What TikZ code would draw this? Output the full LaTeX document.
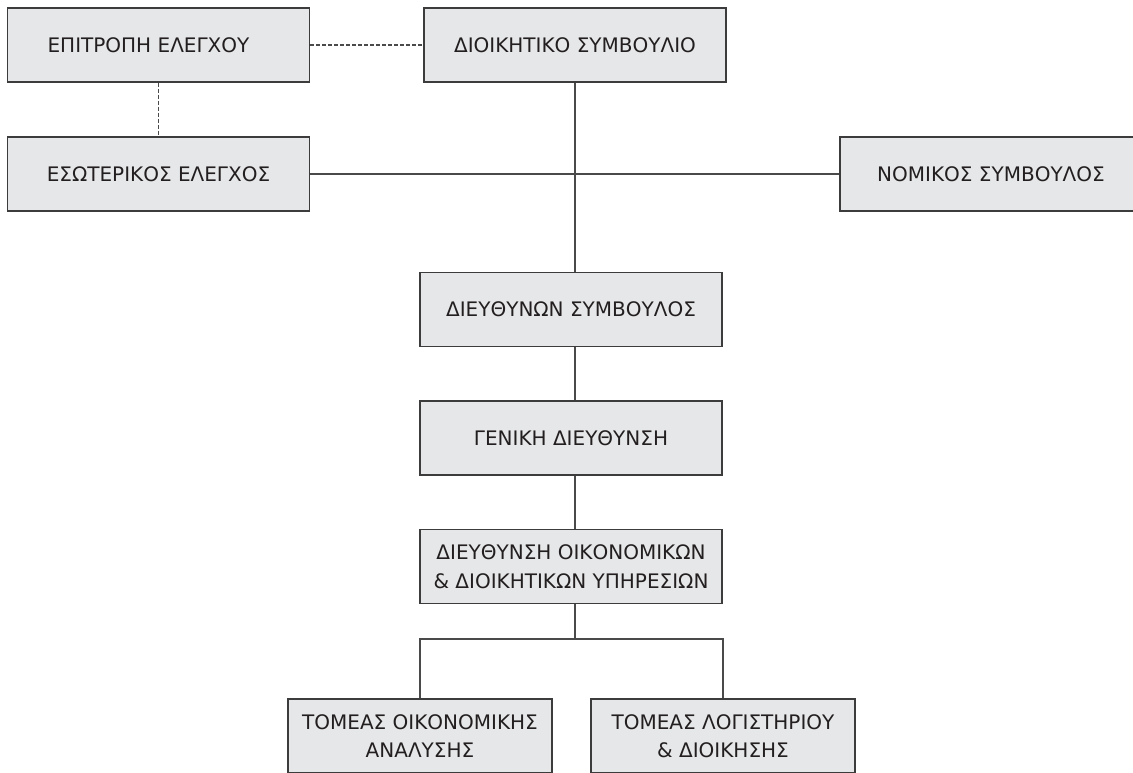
\documentclass[tikz,border=0pt]{standalone}
\usepackage{fontspec}
\setmainfont{DejaVu Sans}
\definecolor{boxfill}{HTML}{E6E7E8}
\definecolor{boxline}{HTML}{3C3C3C}
\definecolor{linkline}{HTML}{4A4A4A}
\definecolor{txt}{HTML}{231F20}
\begin{document}
\begin{tikzpicture}[x=1pt,y=-1pt,
  unit/.style={draw=boxline, fill=boxfill, line width=1.2pt,
    minimum width=302pt, minimum height=74pt, inner sep=0pt,
    align=center, text=txt, font=\fontsize{20}{28.5}\selectfont},
  sector/.style={unit, minimum width=264pt},
  link/.style={draw=linkline, line width=1.3pt},
  dotlink/.style={link, dash pattern=on 4pt off 2pt}]
\useasboundingbox (0,0) rectangle (1133,773);
\clip (0,0) rectangle (1133,773);

% boxes
\node[unit] (epit)   at (158.5,45)  {ΕΠΙΤΡΟΠΗ ΕΛΕΓΧΟΥ\hspace*{20pt}};
\node[unit] (dioik)  at (575,45)    {ΔΙΟΙΚΗΤΙΚΟ ΣΥΜΒΟΥΛΙΟ};
\node[unit] (esot)   at (158.5,174) {ΕΣΩΤΕΡΙΚΟΣ ΕΛΕΓΧΟΣ};
\node[unit] (nomik)  at (991,174)   {ΝΟΜΙΚΟΣ ΣΥΜΒΟΥΛΟΣ};
\node[unit] (dieuth) at (571,309.5) {ΔΙΕΥΘΥΝΩΝ ΣΥΜΒΟΥΛΟΣ};
\node[unit] (gen)    at (571,438)   {ΓΕΝΙΚΗ ΔΙΕΥΘΥΝΣΗ};
\node[unit] (oik)    at (571,566.5) {ΔΙΕΥΘΥΝΣΗ ΟΙΚΟΝΟΜΙΚΩΝ\\ \& ΔΙΟΙΚΗΤΙΚΩΝ ΥΠΗΡΕΣΙΩΝ};
\node[sector] (tomoik) at (420,736) {ΤΟΜΕΑΣ ΟΙΚΟΝΟΜΙΚΗΣ\\ ΑΝΑΛΥΣΗΣ};
\node[sector] (tomlog) at (723,736) {ΤΟΜΕΑΣ ΛΟΓΙΣΤΗΡΙΟΥ\\ \& ΔΙΟΙΚΗΣΗΣ};

% dashed links of the audit committee
\draw[dotlink] (epit.east) -- (dioik.west);
\draw[dotlink] (epit.south) -- (esot.north);

% main spine
\draw[link] (dioik.south) -- (dioik.south |- dieuth.north);
\draw[link] (esot.east) -- (nomik.west);
\draw[link] (dioik.south |- dieuth.south) -- (dioik.south |- gen.north);
\draw[link] (dioik.south |- gen.south) -- (dioik.south |- oik.north);

% branch to the two sectors
\coordinate (br) at (575,639);
\draw[link] (dioik.south |- oik.south) -- (br);
\draw[link] (tomoik.north) -- (tomoik.north |- br) -- (tomlog.north |- br) -- (tomlog.north);
\end{tikzpicture}
\end{document}
